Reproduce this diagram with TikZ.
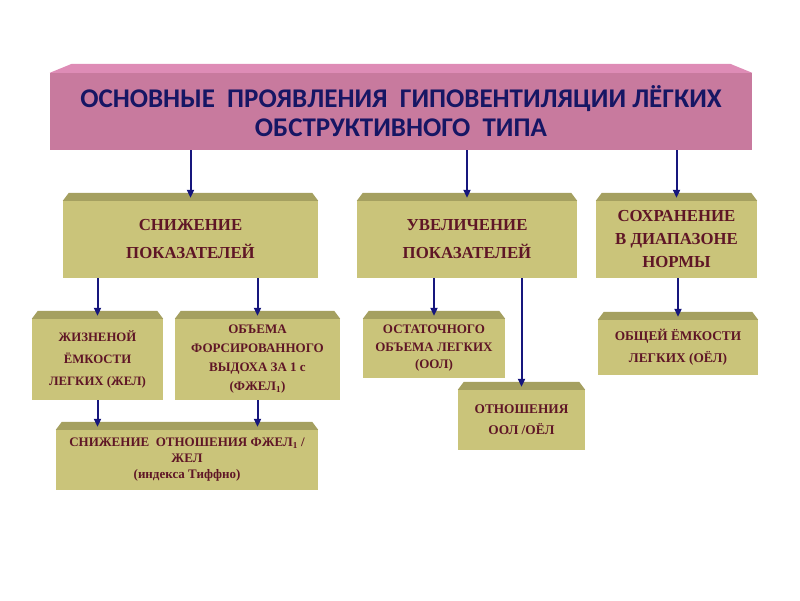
\documentclass[tikz,border=0pt]{standalone}
\usepackage{fontspec}
\setmainfont{Liberation Serif}
\newfontfamily\titlefont{Carlito}
\usetikzlibrary{arrows.meta,positioning}

\definecolor{pinkbody}{RGB}{200,122,158}
\definecolor{pinktop}{RGB}{222,140,182}
\definecolor{navytext}{RGB}{22,22,100}
\definecolor{olivebody}{RGB}{202,196,122}
\definecolor{olivetop}{RGB}{165,160,96}
\definecolor{marontext}{RGB}{95,22,38}
\definecolor{arrowblue}{RGB}{22,22,125}

\begin{document}
\begin{tikzpicture}[x=1pt, y=-1pt,
    % Define styles
    mainbox/.style={rectangle, fill=pinkbody, inner sep=0pt, text=navytext, align=center, font=\titlefont\bfseries\fontsize{27}{29}\selectfont},
    sbox/.style={rectangle, fill=olivebody, inner sep=0pt, text=marontext, align=center, font=\bfseries\fontsize{16.8}{28}\selectfont},
    dbox/.style={rectangle, fill=olivebody, inner sep=0pt, text=marontext, align=center, font=\bfseries\fontsize{12.8}{22}\selectfont},
    tbox/.style={rectangle, fill=olivebody, inner sep=0pt, text=marontext, align=center, font=\bfseries\fontsize{13}{17.5}\selectfont},
    arrow/.style={-{Triangle[length=8pt,width=7pt]}, line width=2pt, arrowblue}
]
\useasboundingbox (0,0) rectangle (800,600);

% Main block
\node[mainbox, minimum width=702, minimum height=77] (main) at (401,111.5)
    {ОСНОВНЫЕ \ ПРОЯВЛЕНИЯ \ ГИПОВЕНТИЛЯЦИИ ЛЁГКИХ\\ОБСТРУКТИВНОГО \ ТИПА};

% Second level
\node[sbox, minimum width=255, minimum height=77] (snizh) at (190.5,239.5) {СНИЖЕНИЕ\\ПОКАЗАТЕЛЕЙ};
\node[sbox, minimum width=220, minimum height=77] (uvel) at (467,239.5) {УВЕЛИЧЕНИЕ\\ПОКАЗАТЕЛЕЙ};
\node[sbox, minimum width=161, minimum height=77, font=\bfseries\fontsize{16.8}{23}\selectfont] (sohr) at (676.5,239.5) {СОХРАНЕНИЕ\\В ДИАПАЗОНЕ\\НОРМЫ};

% Third level
\node[dbox, minimum width=131, minimum height=81] (zhel) at (97.5,359.5) {ЖИЗНЕНОЙ\\ЁМКОСТИ\\ЛЕГКИХ (ЖЕЛ)};
\node[tbox, minimum width=165, minimum height=81, font=\bfseries\fontsize{13}{19}\selectfont] (fzhel) at (257.5,359.5) {ОБЪЕМА\\ФОРСИРОВАННОГО\\ВЫДОХА ЗА 1 с\\(ФЖЕЛ\textsubscript{1})};
\node[tbox, minimum width=142, minimum height=59] (ool) at (434,348.5) {ОСТАТОЧНОГО\\ОБЪЕМА ЛЕГКИХ\\(ООЛ)};
\node[dbox, minimum width=160, minimum height=55, font=\bfseries\fontsize{13.3}{22}\selectfont] (oel) at (678,347.5) {ОБЩЕЙ ЁМКОСТИ\\ЛЕГКИХ (ОЁЛ)};
\node[dbox, minimum width=127, minimum height=60, font=\bfseries\fontsize{13.3}{21}\selectfont] (otn) at (521.5,420) {ОТНОШЕНИЯ\\ООЛ /ОЁЛ};

% Fourth level
\node[tbox, minimum width=262, minimum height=60, font=\bfseries\fontsize{13}{16}\selectfont] (tiff) at (187,460) {СНИЖЕНИЕ \ ОТНОШЕНИЯ ФЖЕЛ\textsubscript{1} /\\ЖЕЛ\\(индекса Тиффно)};

% Bevels on top of the boxes
\fill[pinktop] (main.north west) -- ([xshift=22,yshift=9]main.north west) -- ([xshift=-22,yshift=9]main.north east) -- (main.north east) -- cycle;
\foreach \b in {snizh,uvel,sohr,zhel,fzhel,ool,oel,otn,tiff}
    \fill[olivetop] (\b.north west) -- ([xshift=6,yshift=8]\b.north west) -- ([xshift=-6,yshift=8]\b.north east) -- (\b.north east) -- cycle;

% Connections
\draw[arrow] (main.south -| snizh) -- ([yshift=3]snizh.north);
\draw[arrow] (main.south -| uvel) -- ([yshift=3]uvel.north);
\draw[arrow] (main.south -| sohr) -- ([yshift=3]sohr.north);

\draw[arrow] (snizh.south -| zhel) -- ([yshift=3]zhel.north);
\draw[arrow] (snizh.south -| fzhel) -- ([yshift=3]fzhel.north);
\draw[arrow] (uvel.south -| ool) -- ([yshift=3]ool.north);
\draw[arrow] (uvel.south -| otn) -- ([yshift=3]otn.north);
\draw[arrow] (sohr.south -| oel) -- ([yshift=3]oel.north);

\draw[arrow] (zhel.south) -- ([yshift=3]zhel.south |- tiff.north);
\draw[arrow] (fzhel.south) -- ([yshift=3]fzhel.south |- tiff.north);

\end{tikzpicture}
\end{document}
